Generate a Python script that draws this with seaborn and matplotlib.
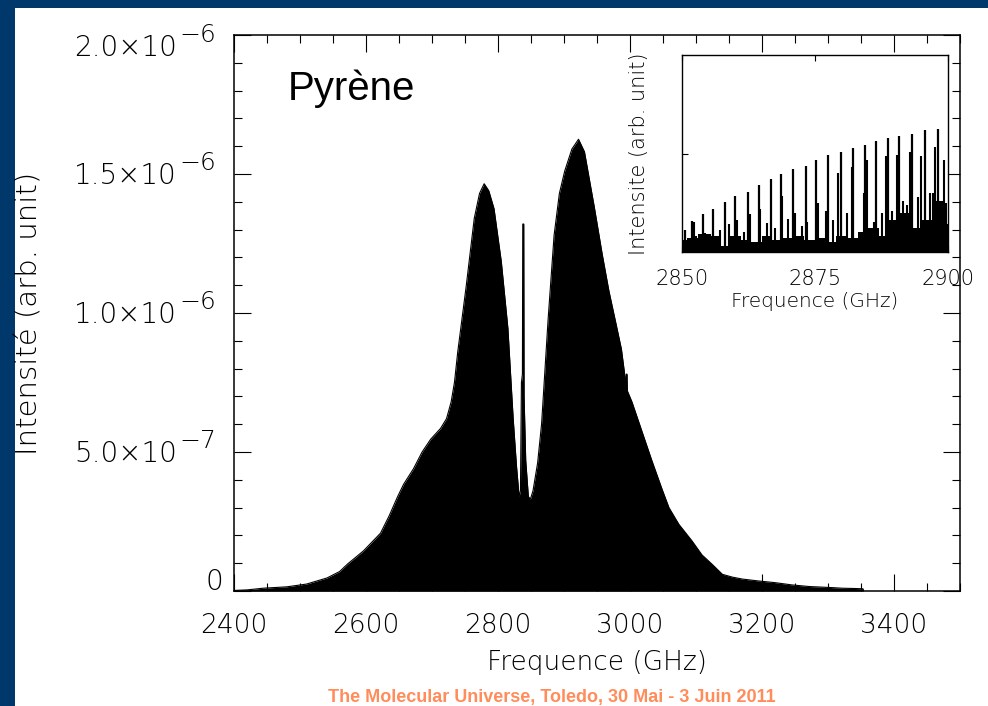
import numpy as np
import pandas as pd
import matplotlib
matplotlib.use("Agg")
import matplotlib.pyplot as plt
import seaborn as sns
from matplotlib.ticker import MultipleLocator, FixedLocator, FuncFormatter, NullFormatter
from matplotlib.patches import Rectangle
from matplotlib.transforms import blended_transform_factory, offset_copy

# ---- main spectrum envelope (GHz, intensity in 1e-6 arb. unit) ----
freq_ghz = [2400, 2420, 2444, 2480, 2510, 2541, 2560, 2572, 2596, 2622, 2635, 2648,
            2657, 2672, 2685, 2698, 2713, 2722, 2729, 2734, 2739, 2752, 2764, 2772,
            2779, 2786, 2794, 2805, 2815, 2823, 2828, 2832, 2834, 2835.5, 2837, 2837.5,
            2839, 2839.5, 2842, 2846, 2849, 2853, 2860, 2866, 2876, 2885, 2893, 2901,
            2912, 2922, 2931, 2946, 2958, 2968, 2978, 2987, 2993, 2994, 2994.5, 2995.5,
            2996, 3003, 3018, 3033, 3048, 3059, 3074, 3094, 3109, 3124, 3140, 3155,
            3170, 3195, 3220, 3245, 3272, 3300, 3322, 3340, 3353, 3354]
intensity_e6 = [0.002, 0.004, 0.010, 0.015, 0.025, 0.047, 0.070, 0.097, 0.144, 0.208, 0.270, 0.340,
                0.384, 0.440, 0.500, 0.546, 0.585, 0.620, 0.680, 0.750, 0.860, 1.100, 1.340, 1.430,
                1.465, 1.440, 1.375, 1.185, 0.945, 0.620, 0.450, 0.340, 0.360, 0.750, 0.780, 1.320,
                1.320, 0.700, 0.470, 0.340, 0.330, 0.360, 0.460, 0.600, 0.980, 1.280, 1.430, 1.510,
                1.590, 1.625, 1.580, 1.380, 1.210, 1.080, 0.970, 0.870, 0.760, 0.740, 0.780, 0.780,
                0.720, 0.680, 0.575, 0.470, 0.370, 0.300, 0.240, 0.180, 0.130, 0.097, 0.060, 0.050,
                0.043, 0.036, 0.030, 0.022, 0.016, 0.013, 0.010, 0.009, 0.008, 0.000]

# ---- inset: zoom 2850-2900 GHz (relative heights) ----
inset_peak_freq = [2850.6, 2851.8, 2853.9, 2855.75, 2858.1, 2860.0, 2862.4, 2864.4, 2866.7,
                   2868.6, 2870.9, 2873.25, 2875.2, 2877.5, 2879.8, 2882.1, 2884.4, 2886.4,
                   2888.75, 2890.8, 2893.25, 2895.6, 2898.1]
inset_peak_height = [0.110, 0.155, 0.193, 0.218, 0.253, 0.282, 0.307, 0.341, 0.370,
                     0.395, 0.420, 0.438, 0.465, 0.493, 0.510, 0.527, 0.544, 0.564,
                     0.581, 0.590, 0.598, 0.617, 0.625]
inset_side_freq = [2851.0, 2852.3, 2852.7, 2853.3, 2854.4, 2855.2, 2857.2, 2858.75, 2860.4,
                   2861.6, 2862.7, 2864.7, 2866.0, 2867.4, 2868.75, 2870.0, 2871.25, 2872.6,
                   2873.5, 2875.6, 2877.0, 2878.4, 2879.4, 2881.0, 2881.9, 2883.5, 2884.2,
                   2884.7, 2886.0, 2887.6, 2888.4, 2889.5, 2890.4, 2891.5, 2892.2, 2892.8,
                   2894.3, 2895.0, 2896.6, 2897.2, 2897.6, 2899.2, 2899.7]
inset_side_height = [0.050, 0.150, 0.080, 0.090, 0.095, 0.090, 0.110, 0.140, 0.164,
                     0.100, 0.194, 0.218, 0.147, 0.120, 0.282, 0.170, 0.198, 0.130,
                     0.150, 0.248, 0.210, 0.160, 0.400, 0.200, 0.430, 0.080, 0.300,
                     0.468, 0.150, 0.200, 0.485, 0.210, 0.493, 0.260, 0.240, 0.510,
                     0.280, 0.485, 0.300, 0.300, 0.535, 0.468, 0.250]
inset_base_freq = [2850, 2852, 2854, 2856, 2858, 2860, 2862, 2864, 2866, 2868, 2870, 2872, 2874,
                   2876, 2878, 2880, 2882, 2884, 2886, 2888, 2890, 2892, 2894, 2896, 2898, 2900]
inset_base_height = [0.06, 0.07, 0.09, 0.08, 0.03, 0.08, 0.06, 0.05, 0.08, 0.06, 0.07, 0.08, 0.06,
                     0.07, 0.05, 0.08, 0.07, 0.10, 0.12, 0.08, 0.16, 0.20, 0.12, 0.16, 0.26, 0.14]

x_major = [2400, 2600, 2800, 3000, 3200, 3400]
y_major = [0, 0.5e-6, 1.0e-6, 1.5e-6, 2.0e-6]
inset_xticks = [2850, 2875, 2900]

sns.set_theme(style="ticks")
plt.rcParams["font.family"] = ["DejaVu Sans"]

W, H = 988, 706
fig = plt.figure(figsize=(W / 100, H / 100), dpi=100)
fig.patch.set_facecolor("#00386b")
fig.add_artist(Rectangle((15 / W, 0), 1, 1 - 8 / H, transform=fig.transFigure,
                         facecolor="white", edgecolor="none", zorder=0))

def fx(px):
    return px / W

def fy(py):
    return 1 - py / H

# main axes
ax = fig.add_axes([fx(234), fy(591), fx(960) - fx(234), fy(35) - fy(591)])
ax.set_facecolor("white")
df = pd.DataFrame({"f": freq_ghz, "I": np.array(intensity_e6) * 1e-6})
ax.fill_between(df["f"], df["I"], 0, color="black", linewidth=0)
sns.lineplot(data=df, x="f", y="I", ax=ax, color="black", linewidth=0.8)
ax.set_xlim(2400, 3500)
ax.set_ylim(0, 2.0e-6)
ax.xaxis.set_major_locator(FixedLocator(x_major))
ax.xaxis.set_minor_locator(MultipleLocator(50))
ax.yaxis.set_major_locator(FixedLocator(y_major))
ax.yaxis.set_minor_locator(MultipleLocator(1e-7))
ax.yaxis.set_major_formatter(NullFormatter())
ax.xaxis.set_major_formatter(FuncFormatter(lambda v, p: "%d" % v))
ax.tick_params(which="both", direction="in", top=True, right=True, color="black",
               width=0.8, labelcolor="black")
ax.tick_params(which="major", length=12, labelsize=19)
ax.tick_params(which="minor", length=6)
ax.tick_params(axis="x", which="major", pad=16)
for lab in ax.get_xticklabels():
    lab.set_fontweight("light")
for s in ax.spines.values():
    s.set_color("black")
    s.set_linewidth(1.1)

# y tick labels "m.m×10^e" with a large superscript, IDL style
ytrans = blended_transform_factory(ax.transAxes, ax.transData)
axw = 726.0
for v in y_major:
    if v == 0:
        shift = 6.5
    elif v == y_major[-1]:
        shift = -9.5
    else:
        shift = -1.5
    tr = offset_copy(ytrans, fig=fig, x=0, y=shift, units="points")
    if v == 0:
        ax.text(-(234 - 223) / axw, v, "0", transform=tr, ha="right", va="center",
                fontsize=20, fontweight="light", color="black")
        continue
    exp = int(np.floor(np.log10(v) + 1e-9))
    mant = v / 10 ** exp
    ax.text(-(234 - 177) / axw, v, "%.1f×10" % mant, transform=tr, ha="right",
            va="center", fontsize=20, fontweight="light", color="black")
    tr2 = offset_copy(ytrans, fig=fig, x=0, y=shift + 9.5, units="points")
    ax.text(-(234 - 179) / axw, v, "\u2212%d" % (-exp), transform=tr2, ha="left",
            va="center", fontsize=18, fontweight="light", color="black")

ax.set_xlabel("Frequence (GHz)", fontsize=19, fontweight="light", color="black")
ax.set_ylabel("Intensité (arb. unit)", fontsize=21, fontweight="light", color="black")
ax.xaxis.set_label_coords(0.5, (591 - 650) / 557)
ax.yaxis.set_label_coords(-(234 - 44) / axw, 0.5)
ax.text((288 - 234) / axw, (591 - 100) / 556, "Pyrène", transform=ax.transAxes,
        fontsize=29, family="Liberation Sans", va="baseline", ha="left", color="black")

# inset axes
axi = fig.add_axes([fx(682), fy(252), fx(948) - fx(682), fy(55) - fy(252)])
axi.set_facecolor("white")
axi.fill_between(inset_base_freq, inset_base_height, 0, step="mid", color="black", linewidth=0)
axi.vlines(inset_side_freq, 0, inset_side_height, color="black", linewidth=1.5)
axi.vlines(inset_peak_freq, 0, inset_peak_height, color="black", linewidth=1.6)
axi.set_xlim(2850, 2900)
axi.set_ylim(0, 1)
axi.set_xticks(inset_xticks)
axi.set_yticks([0.5])
axi.set_yticklabels([])
axi.tick_params(which="both", direction="in", top=True, right=False, length=4,
                width=0.8, color="black", labelsize=15, labelcolor="black")
axi.tick_params(axis="x", pad=12)
for lab in axi.get_xticklabels():
    lab.set_fontweight("light")
for s in axi.spines.values():
    s.set_color("black")
    s.set_linewidth(1.0)
axi.set_xlabel("Frequence (GHz)", fontsize=14.5, fontweight="light", color="black")
axi.set_ylabel("Intensite (arb. unit)", fontsize=15, fontweight="light", color="black")
axi.xaxis.set_label_coords(0.5, -(292 - 252) / 197)
axi.yaxis.set_label_coords(-(682 - 649) / 266, 0.5)

fig.text(fx(328), fy(689), "The Molecular Universe, Toledo, 30 Mai - 3 Juin 2011",
         color="#ff8c5a", fontsize=13, fontweight="bold", family="Liberation Sans",
         va="top", ha="left")

fig.savefig("out.png", dpi=100, facecolor=fig.get_facecolor())
